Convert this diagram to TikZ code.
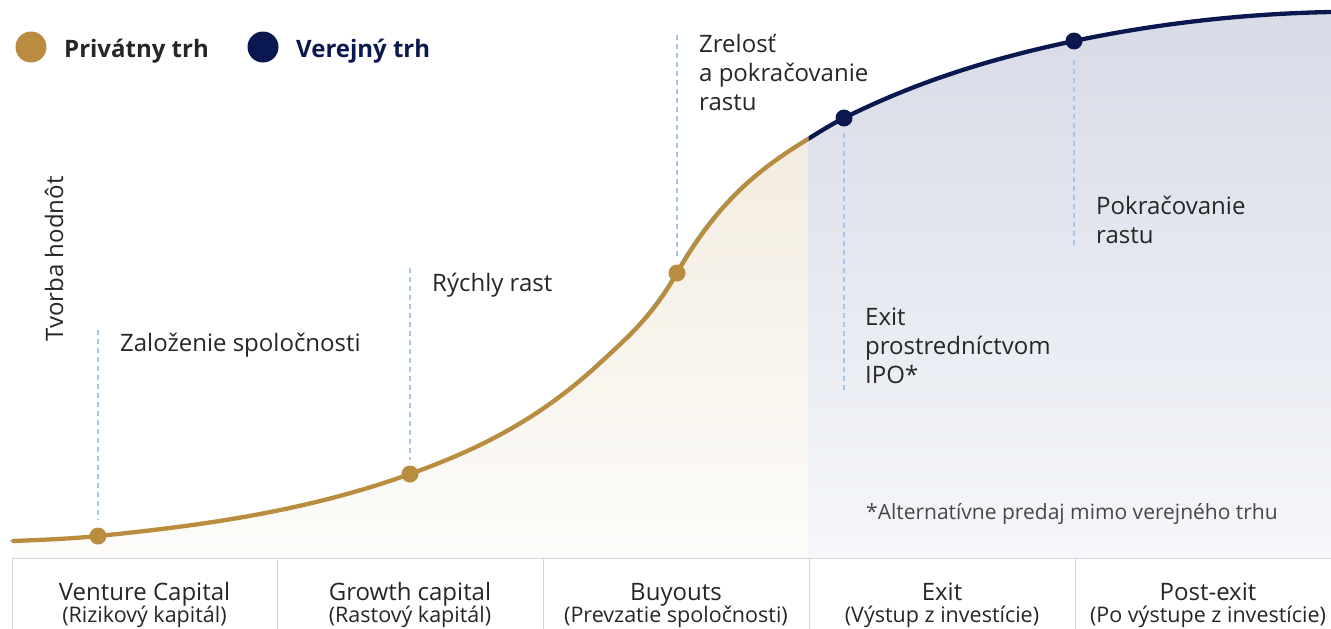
\documentclass[tikz,border=0pt]{standalone}
\usepackage{fontspec}
\setmainfont{Open Sans}
\definecolor{gold}{HTML}{B98C3F}
\definecolor{navy}{HTML}{0B1850}
\definecolor{txt}{HTML}{262626}
\definecolor{guideblue}{HTML}{A6C6EA}
\definecolor{edgeblue}{HTML}{4FB0E3}
\definecolor{gridgray}{HTML}{D6D6D6}
\definecolor{beigetop}{HTML}{F3ECE0}
\definecolor{beigebot}{HTML}{FDFCFA}
\definecolor{bluetop}{HTML}{D8DBE6}
\definecolor{bluebot}{HTML}{F5F7FB}
\tikzset{
  lbl/.style={anchor=base west, inner sep=0pt, text=txt, font=\fontsize{24}{29}\selectfont, align=left},
  celltop/.style={anchor=base, inner sep=0pt, text=txt, font=\fontsize{24}{29}\selectfont},
  cellbot/.style={anchor=base, inner sep=0pt, text=txt, font=\fontsize{21.5}{26}\selectfont},
  golddot/.style={circle, fill=gold, inner sep=0pt, minimum size=17pt},
  navydot/.style={circle, fill=navy, inner sep=0pt, minimum size=17pt},
  guide/.style={draw=guideblue, line width=1.1pt, dash pattern=on 5pt off 4pt},
  gridline/.style={draw=gridgray, line width=1pt},
}
\begin{document}
\begin{tikzpicture}[x=1pt,y=-1pt]
\useasboundingbox (0,0) rectangle (1331,629);
% shaded areas under the curve
\begin{scope}
  \clip (12,541) .. controls (40.7,539.9) and (69.3,538.9) .. (98,536)
    .. controls (202,525.6) and (306,511.4) .. (410,474)
    .. controls (473.3,451.2) and (536.7,421.9) .. (600,363)
    .. controls (625.7,339.1) and (651.3,317.9) .. (677,273)
    .. controls (720.7,196.6) and (764.3,166.1) .. (808,139)
    .. controls (820,131.6) and (832,124) .. (844,118)
    .. controls (920.7,79.7) and (997.3,57.1) .. (1074,41)
    .. controls (1159.7,23) and (1245.3,13.7) .. (1331,12)
    -- (1331,558) -- (12,558) -- cycle;
  \shade[top color=beigetop, bottom color=beigebot] (0,139) rectangle (808.5,558);
  \shade[top color=bluetop, bottom color=bluebot] (808.5,11) rectangle (1331,558);
\end{scope}
% the curve
\path[save path=\valuecurve] (12,541) .. controls (40.7,539.9) and (69.3,538.9) .. (98,536)
    .. controls (202,525.6) and (306,511.4) .. (410,474)
    .. controls (473.3,451.2) and (536.7,421.9) .. (600,363)
    .. controls (625.7,339.1) and (651.3,317.9) .. (677,273)
    .. controls (720.7,196.6) and (764.3,166.1) .. (808,139)
    .. controls (820,131.6) and (832,124) .. (844,118)
    .. controls (920.7,79.7) and (997.3,57.1) .. (1074,41)
    .. controls (1159.7,23) and (1245.3,13.7) .. (1331,12);
\begin{scope}
  \clip (0,0) rectangle (808.5,629);
  \draw[use path=\valuecurve, draw=edgeblue, line width=1.4pt, transform canvas={xshift=-2pt}];
  \draw[use path=\valuecurve, draw=gold, line width=4.3pt];
\end{scope}
\begin{scope}
  \clip (808.5,0) rectangle (1331,629);
  \draw[use path=\valuecurve, draw=navy, line width=4.3pt];
\end{scope}
% table
\draw[gridline] (12,558) -- (1331,558);
\foreach \xx in {12,277,543,809,1075} \draw[gridline] (\xx,558) -- (\xx,629);
% dots
\node[golddot] (d1) at (98,536) {};
\node[golddot] (d2) at (410,474) {};
\node[golddot] (d3) at (677,273) {};
\node[navydot] (d4) at (844,118) {};
\node[navydot] (d5) at (1074,41) {};
% guide lines
\coordinate (g1) at (98,330);
\coordinate (g2) at (410,268);
\coordinate (g3) at (677,35);
\coordinate (g4) at (844,390);
\coordinate (g5) at (1074,245);
\draw[guide, shorten >=7pt] (g1) -- (d1);
\draw[guide, shorten >=5pt] (g2) -- (d2);
\draw[guide, shorten >=8pt] (g3) -- (d3);
\draw[guide, shorten >=6pt] (g4) -- (d4);
\draw[guide, shorten >=7pt] (g5) -- (d5);
% labels
\node[lbl] (l1) at (120,351) {Založenie spoločnosti};
\node[lbl] (l2) at (432,291) {Rýchly rast};
\node[lbl, anchor=north west] (l3) at (699,34.5) {Zrelosť\\a pokračovanie\\rastu};
\node[lbl, anchor=north west] (l4) at (865,307.5) {Exit\\prostredníctvom\\IPO*};
\node[lbl, anchor=north west] (l5) at (1096,196) {Pokračovanie\\rastu};
\node[anchor=base west, inner sep=0pt, text=txt!85, font=\fontsize{21}{25}\selectfont] (fn) at (866,519) {*Alternatívne predaj mimo verejného trhu};
\node[anchor=base, inner sep=0pt, text=txt, rotate=90, font=\fontsize{24}{29}\selectfont] (yl) at (63,259) {Tvorba hodnôt};
% legend
\node[circle, fill=gold, inner sep=0pt, minimum size=31pt] (lg1) at (31,47) {};
\node[anchor=base west, inner sep=0pt, text=txt, font=\fontsize{24}{29}\selectfont\bfseries] (lt1) at (64,57) {Privátny trh};
\node[circle, fill=navy, inner sep=0pt, minimum size=31pt] (lg2) at (263,47) {};
\node[anchor=base west, inner sep=0pt, text=navy, font=\fontsize{24}{29}\selectfont\bfseries] (lt2) at (296,57) {Verejný trh};
% table text
\node[celltop] (c1) at (144.5,600) {Venture Capital};
\node[cellbot] (c1b) at (144.5,622.5) {(Rizikový kapitál)};
\node[celltop] (c2) at (410,600) {Growth capital};
\node[cellbot] (c2b) at (410,622.5) {(Rastový kapitál)};
\node[celltop] (c3) at (676,600) {Buyouts};
\node[cellbot] (c3b) at (676,622.5) {(Prevzatie spoločnosti)};
\node[celltop] (c4) at (942,600) {Exit};
\node[cellbot] (c4b) at (942,622.5) {(Výstup z investície)};
\node[celltop] (c5) at (1208,600) {Post-exit};
\node[cellbot] (c5b) at (1208,622.5) {(Po výstupe z investície)};
\end{tikzpicture}
\end{document}
